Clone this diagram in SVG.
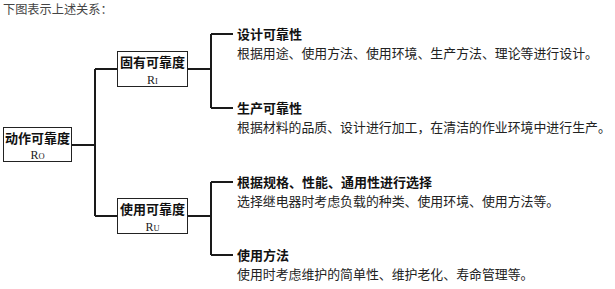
<svg xmlns="http://www.w3.org/2000/svg" width="615" height="289" viewBox="0 0 615 289">
<style>
.cjk{font-family:"Noto Sans CJK SC","Noto Sans",sans-serif;}
.cap{font-size:12.2px;fill:#444;}
.box{fill:#fff;stroke:#222;stroke-width:1;}
.bl{font-size:13px;fill:#111;font-weight:bold;text-anchor:middle;}
.r{font-family:"Liberation Serif",serif;font-size:12px;fill:#222;text-anchor:middle;}
.h{font-size:13px;font-weight:bold;fill:#111;}
.t{font-size:12.9px;fill:#222;}
.ln{fill:none;stroke:#1a1a1a;stroke-width:2;}
</style>
<rect width="615" height="289" fill="#fff"/>
<text class="cjk cap" x="3" y="14">下图表示上述关系：</text>
<g id="connectors">
<path class="ln" d="M72 145H95M95 69V216M95 69H117M95 216H117"/>
<path class="ln" d="M188 69H211M211 34V108M211 34H233M211 108H233"/>
<path class="ln" d="M188 216H211M211 182V255M211 182H233M211 255H233"/>
</g>
<g id="n_ro">
<rect class="box" x="3.5" y="127.5" width="68" height="34"/>
<text class="cjk bl" x="37.5" y="143">动作可靠度</text>
<text class="r" x="37.5" y="159">R<tspan font-size="8.5">O</tspan></text>
</g>
<g id="n_ri">
<rect class="box" x="117.5" y="51.5" width="70" height="35"/>
<text class="cjk bl" x="152.5" y="67">固有可靠度</text>
<text class="r" x="152.5" y="83.5">R<tspan font-size="8.5">I</tspan></text>
</g>
<g id="n_ru">
<rect class="box" x="117.5" y="198.5" width="70" height="35"/>
<text class="cjk bl" x="152.5" y="214">使用可靠度</text>
<text class="r" x="152.5" y="230.5">R<tspan font-size="8.5">U</tspan></text>
</g>
<g id="n_design">
<text class="cjk h" x="237" y="39">设计可靠性</text>
<text class="cjk t" x="237" y="58">根据用途、使用方法、使用环境、生产方法、理论等进行设计。</text>
</g>
<g id="n_prod">
<text class="cjk h" x="237" y="113">生产可靠性</text>
<text class="cjk t" x="237" y="132">根据材料的品质、设计进行加工，在清洁的作业环境中进行生产。</text>
</g>
<g id="n_select">
<text class="cjk h" x="237" y="187">根据规格、性能、通用性进行选择</text>
<text class="cjk t" x="237" y="206">选择继电器时考虑负载的种类、使用环境、使用方法等。</text>
</g>
<g id="n_use">
<text class="cjk h" x="237" y="260">使用方法</text>
<text class="cjk t" x="237" y="279">使用时考虑维护的简单性、维护老化、寿命管理等。</text>
</g>
</svg>
